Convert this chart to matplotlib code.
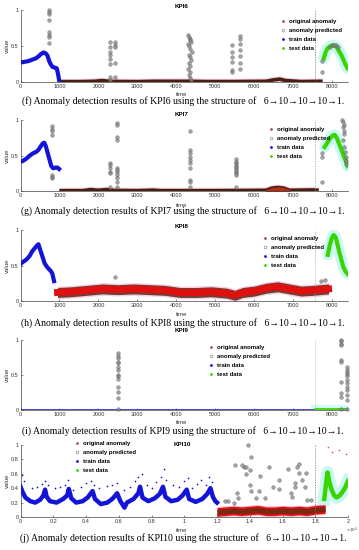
import matplotlib
matplotlib.use('Agg')
import matplotlib.pyplot as plt
from matplotlib.lines import Line2D

W, H = 359, 550

# ---------------- KPI6 ----------------
kpi6_train_x = [0, 100, 200, 300, 400, 470, 530, 590, 640, 690, 730, 770, 820, 880, 930, 960, 990]
kpi6_train_y = [0.27, 0.28, 0.29, 0.31, 0.33, 0.36, 0.39, 0.41, 0.40, 0.37, 0.30, 0.25, 0.21, 0.20, 0.19, 0.12, 0.03]
kpi6_band_x = [1000, 1500, 1900, 2100, 2300, 3000, 3400, 4300, 4800, 5400, 6300, 6500, 6650, 6800, 7200, 7750]
kpi6_band_c = [0.005, 0.005, 0.01, 0.02, 0.008, 0.005, 0.01, 0.01, 0.006, 0.006, 0.01, 0.03, 0.04, 0.02, 0.006, 0.01]
kpi6_test_x = [7780, 7830, 7880, 7950, 8030, 8100, 8180, 8250, 8330, 8390]
kpi6_test_y = [0.33, 0.42, 0.47, 0.50, 0.51, 0.49, 0.42, 0.35, 0.25, 0.19]
kpi6_anom_x = [740, 740, 740, 740, 740, 740, 740, 740,
               2300, 2300, 2300, 2300, 2300, 2300, 2300, 2300,
               2420, 2420, 2420, 2420, 2420,
               4300, 4320, 4340, 4360, 4380, 4300, 4330, 4360, 4390, 4310, 4350,
               4370, 4320, 4340, 4300, 4360, 4330, 4350, 4380,
               5420, 5420, 5420, 5420, 5420, 5420,
               5630, 5630, 5630, 5630, 5630, 5630, 5630,
               7730, 7730,
               7950, 8000, 8050, 8100, 8150]
kpi6_anom_y = [1.0, 0.97, 0.94, 0.86, 0.69, 0.65, 0.62, 0.54,
               0.55, 0.49, 0.42, 0.38, 0.32, 0.25, 0.07, 0.03,
               0.55, 0.52, 0.49, 0.27, 0.07,
               0.65, 0.63, 0.60, 0.58, 0.56, 0.53, 0.50, 0.46, 0.42, 0.38,
               0.35, 0.30, 0.26, 0.22, 0.18, 0.14, 0.10, 0.06, 0.03,
               0.51, 0.42, 0.35, 0.28, 0.17, 0.14,
               0.64, 0.60, 0.53, 0.44, 0.36, 0.26, 0.18,
               0.14, 0.29,
               0.49, 0.51, 0.52, 0.51, 0.49]

# ---------------- KPI7 ----------------
kpi7_train_x = [0, 80, 160, 240, 320, 400, 460, 520, 570, 610, 650, 700, 750, 790, 840, 900, 950, 990]
kpi7_train_y = [0.41, 0.43, 0.46, 0.50, 0.53, 0.55, 0.58, 0.63, 0.67, 0.68, 0.63, 0.53, 0.43, 0.35, 0.32, 0.33, 0.33, 0.31]
kpi7_band_x = [1000, 1600, 1800, 2000, 2200, 2400, 3000, 3400, 3600, 5000, 6300, 6450, 6600, 6750, 6900, 7500, 7650]
kpi7_band_c = [0.005, 0.005, 0.02, 0.01, 0.02, 0.008, 0.005, 0.012, 0.005, 0.005, 0.01, 0.04, 0.05, 0.04, 0.01, 0.015, 0.01]
kpi7_test_x = [7800, 7870, 7940, 8000, 8060, 8120, 8180, 8240, 8300, 8360, 8390]
kpi7_test_y = [0.62, 0.68, 0.74, 0.78, 0.79, 0.74, 0.65, 0.57, 0.48, 0.40, 0.35]
kpi7_anom_x = [800, 800, 800, 800, 800, 800, 800,
               2300, 2300, 2300, 2300, 2300, 2300,
               2470, 2470, 2470, 2470, 2470, 2470, 2470, 2470, 2470, 2470, 2470,
               4350, 4350, 4350, 4350, 4350, 4350, 4350, 4350, 4350, 4350,
               5530, 5530, 5530, 5530, 5530, 5530, 5530, 5530, 5530, 5530, 5530,
               7730, 7730, 7730,
               8250, 8280, 8300, 8260, 8290, 8310, 8270, 8300, 8320, 8340, 8350, 8360]
kpi7_anom_y = [0.91, 0.87, 0.84, 0.79, 0.23, 0.20, 0.18,
               0.39, 0.37, 0.32, 0.27, 0.25, 0.05,
               0.96, 0.93, 0.76, 0.72, 0.32, 0.30, 0.27, 0.23, 0.18, 0.13, 0.05,
               0.84, 0.58, 0.53, 0.48, 0.44, 0.39, 0.32, 0.15, 0.13, 0.05,
               0.45, 0.41, 0.39, 0.37, 0.34, 0.32, 0.30, 0.27, 0.25, 0.23, 0.06,
               0.13, 0.53, 0.48,
               1.0, 0.97, 0.93, 0.90, 0.85, 0.80, 0.72, 0.62, 0.55, 0.48, 0.42, 0.38]

# ---------------- KPI8 ----------------
kpi8_train_x = [0, 60, 120, 180, 240, 300, 360, 420, 460, 500, 560, 620, 680, 730, 780, 820, 860]
kpi8_train_y = [0.52, 0.55, 0.57, 0.60, 0.64, 0.70, 0.74, 0.78, 0.80, 0.73, 0.63, 0.53, 0.48, 0.45, 0.42, 0.38, 0.28]
kpi8_band_x = [950, 1300, 1700, 2100, 2500, 2900, 3300, 3700, 4100, 4500, 4900, 5300, 5500,
               5700, 6000, 6300, 6600, 6900, 7200, 7500, 7900]
kpi8_band_c = [0.12, 0.13, 0.15, 0.17, 0.16, 0.17, 0.16, 0.15, 0.12, 0.12, 0.13, 0.11, 0.08,
               0.12, 0.14, 0.18, 0.20, 0.17, 0.14, 0.15, 0.17]
kpi8_test_x = [7880, 7930, 7980, 8030, 8080, 8130, 8180, 8230, 8280, 8330, 8390]
kpi8_test_y = [0.65, 0.78, 0.88, 0.93, 0.90, 0.80, 0.68, 0.58, 0.48, 0.42, 0.38]
kpi8_anom_x = [2430, 7720, 7800]
kpi8_anom_y = [0.34, 0.28, 0.30]

# ---------------- KPI9 ----------------
kpi9_train_x = [0, 7560]
kpi9_train_y = [0.005, 0.005]
kpi9_test_x = [7560, 8400]
kpi9_test_y = [0.01, 0.01]
kpi9_anom_x = [2500] * 14 + [8210] * 10 + [8370] * 12
kpi9_anom_y = [0.81, 0.77, 0.74, 0.69, 0.67, 0.62, 0.57, 0.50, 0.48, 0.44, 0.33, 0.26, 0.17, 0.01,
               1.0, 0.98, 0.95, 0.93, 0.71, 0.69, 0.40, 0.24, 0.19, 0.02,
               0.62, 0.57, 0.55, 0.52, 0.48, 0.43, 0.38, 0.33, 0.29, 0.21, 0.14, 0.02]

# ---------------- KPI10 ----------------
kpi10_train_x = [0, 100, 300, 600, 900, 1200, 1400, 1500, 1600, 1800, 2200, 2600, 2850, 2950, 3100,
                 3400, 3800, 4100, 4300, 4400, 4550, 4900, 5300, 5600, 5800, 5900, 6100, 6350, 6500,
                 6900, 7200, 7300, 7450, 7800, 8200, 8500, 8700, 8850, 9200, 9600, 9900, 10150,
                 10300, 10700, 11100, 11400, 11600, 11750, 11900, 12000]
kpi10_train_y = [0.42, 0.36, 0.27, 0.22, 0.20, 0.24, 0.30, 0.38, 0.28, 0.22, 0.20, 0.25, 0.30, 0.39, 0.26,
                 0.20, 0.22, 0.27, 0.33, 0.36, 0.25, 0.18, 0.20, 0.25, 0.30, 0.33, 0.22, 0.13, 0.20,
                 0.25, 0.33, 0.42, 0.27, 0.22, 0.26, 0.32, 0.42, 0.28, 0.22, 0.24, 0.30, 0.38,
                 0.25, 0.21, 0.25, 0.32, 0.40, 0.28, 0.22, 0.20]
kpi10_out_x = [100, 200, 700, 1000, 1300, 1500, 1700, 2100, 2400, 2700, 2900, 3200, 3700, 4000,
               4300, 4500, 4800, 5300, 5600, 5900, 6300, 6700, 7000, 7200, 7400, 7700, 8000, 8300,
               8600, 8750, 8900, 9300, 9700, 10000, 10200, 10500, 10800, 11000, 11300, 11500, 11700]
kpi10_out_y = [0.58, 0.50, 0.40, 0.42, 0.46, 0.50, 0.44, 0.40, 0.42, 0.45, 0.52, 0.38, 0.42, 0.47,
               0.50, 0.44, 0.40, 0.43, 0.45, 0.47, 0.37, 0.41, 0.50, 0.56, 0.60, 0.45, 0.40, 0.48,
               0.55, 0.66, 0.52, 0.45, 0.42, 0.50, 0.54, 0.40, 0.46, 0.52, 0.44, 0.55, 0.48]
kpi10_band_x = [12000, 12500, 13000, 13500, 14000, 14500, 15000, 15500, 16000, 16500, 17000, 17500, 18000, 18600]
kpi10_band_c = [0.07, 0.08, 0.09, 0.08, 0.09, 0.10, 0.08, 0.08, 0.09, 0.08, 0.09, 0.08, 0.10, 0.11]
kpi10_test_x = [18550, 18650, 18750, 18850, 19000, 19150, 19300, 19500, 19700, 19850, 20000]
kpi10_test_y = [0.25, 0.45, 0.62, 0.50, 0.38, 0.30, 0.27, 0.30, 0.36, 0.42, 0.50]
kpi10_anom_x = [12500, 12700, 13010, 13210, 13310, 13620, 13780, 13780, 13900, 14000, 14020, 14050,
                14070, 14400, 14570, 14640, 14910, 15170, 15390, 15770, 15800, 16360, 16490, 16600,
                16760, 16760, 16910, 17010, 17010, 17210, 17370, 17450, 17520, 17720, 13100, 13540]
kpi10_anom_y = [0.22, 0.22, 0.19, 0.33, 0.26, 0.70, 0.70, 0.60, 1.0, 0.65, 0.44, 0.36,
                0.84, 0.26, 0.36, 0.57, 0.26, 0.70, 0.41, 0.52, 0.39, 0.66, 0.34, 0.28,
                0.47, 0.41, 0.70, 0.74, 0.61, 0.52, 0.41, 0.61, 0.24, 0.24, 0.72, 0.72]
kpi10_orig_x = [18780, 19000, 19480, 19880]
kpi10_orig_y = [0.97, 0.90, 0.93, 0.87]

captions = [
    "(f) Anomaly detection results of KPI6 using the structure of   6\u219210\u219210\u219210\u21921.",
    "(g) Anomaly detection results of KPI7 using the structure of   6\u219210\u219210\u219210\u21921.",
    "(h) Anomaly detection results of KPI8 using the structure of   6\u219210\u219210\u219210\u21921.",
    "(i) Anomaly detection results of KPI9 using the structure of   6\u219210\u219210\u219210\u21921.",
    "(j) Anomaly detection results of KPI10 using the structure of   6\u219210\u219210\u219210\u21921.",
]

BLUE = '#1414d8'
GREEN = '#3ad400'
RED = '#e01010'
BROWN = '#4a1e10'
GREY = '#858585'
SANS = ['Liberation Sans', 'DejaVu Sans']
SERIF = ['Liberation Serif', 'DejaVu Serif']

fig = plt.figure(figsize=(W / 100, H / 100), dpi=100)


def add_axes(top, bot, left=20.5, right=348):
    return fig.add_axes([left / W, 1 - bot / H, (right - left) / W, (bot - top) / H])


def style_axes(ax, xmax, xticks, xlabels, yticks, ylabels):
    ax.set_xlim(0, xmax)
    ax.set_ylim(0, 1)
    for s in ['top', 'right']:
        ax.spines[s].set_visible(False)
    for s in ['left', 'bottom']:
        ax.spines[s].set_linewidth(0.5)
        ax.spines[s].set_color('#444444')
    ax.set_xticks(xticks)
    ax.set_xticklabels(xlabels)
    ax.set_yticks(yticks)
    ax.set_yticklabels(ylabels)
    ax.tick_params(direction='in', length=1.5, width=0.4, labelsize=4, pad=1.5, colors='#333333')
    for t in ax.get_xticklabels() + ax.get_yticklabels():
        t.set_family(SANS)
    ax.patch.set_alpha(0)


def fig_text(x, y, s, **kw):
    kw.setdefault('ha', 'center')
    fig.text(x / W, 1 - y / H, s, va='center', **kw)


def legend(ax, x, y):
    hs = [Line2D([], [], ls='none', marker='.', ms=2, color='#b05050'),
          Line2D([], [], ls='none', marker='o', ms=2, mfc='none', mec='#777777', mew=0.4),
          Line2D([], [], ls='none', marker='.', ms=2, color=BLUE),
          Line2D([], [], ls='none', marker='.', ms=2, color=GREEN)]
    labels = ['original anomaly', 'anomaly predicted', 'train data', 'test data']
    ax.legend(hs, labels, loc='upper left', bbox_to_anchor=(x / W, 1 - y / H),
              bbox_transform=fig.transFigure, frameon=False, handlelength=0.8,
              handletextpad=0.6, labelspacing=0.62, borderpad=0, borderaxespad=0,
              prop={'family': SANS, 'size': 4.3, 'weight': 'bold'})


def draw_line_band(ax, bx, bc, col, lw):
    ax.plot(bx, bc, color='#f6d0e4', lw=lw + 1.5, solid_capstyle='butt', zorder=1)
    ax.plot(bx, bc, color=col, lw=lw, solid_capstyle='butt', zorder=2)


def draw_train_test(ax, trx, try_, tex, tey, lw=3.0):
    ax.plot(tex, tey, color='#c8f8f4', lw=lw + 5, zorder=1, solid_capstyle='round')
    ax.plot(trx, try_, color=BLUE, lw=lw, zorder=3)
    ax.plot(tex, tey, color=GREEN, lw=lw, zorder=3)


def draw_anom(ax, x, y):
    ax.scatter(x, y, s=7, facecolor=GREY, edgecolor='#505050', linewidths=0.3,
               alpha=0.75, zorder=4, clip_on=False)


x8 = list(range(0, 8001, 1000))
x8l = [str(v) for v in x8]

# panel tops/bottoms in px (value 1 / value 0)
tops = [10, 120, 230, 340, 445]
bots = [82, 191, 301, 410, 517]
titles = ['KPI6', 'KPI7', 'KPI8', 'KPI9', 'KPI10']
title_y = [7, 114, 227, 331, 445]
time_y = [95, 205, 315, 422, 530]
cap_y = [101, 211, 323, 431, 538]
leg_xy = [(281, 19), (269, 127), (263, 236), (209, 345), (75, 441)]

axes = [add_axes(tops[i], bots[i]) for i in range(5)]

# KPI6
ax = axes[0]
draw_line_band(ax, kpi6_band_x, kpi6_band_c, BROWN, 2.6)
draw_train_test(ax, kpi6_train_x, kpi6_train_y, kpi6_test_x, kpi6_test_y)
draw_anom(ax, kpi6_anom_x, kpi6_anom_y)
ax.axvline(7560, color='#777777', ls='--', lw=0.5, dashes=(2, 1.5))
style_axes(ax, 8400, x8, x8l, [0, 0.5, 1], ['0', '0.5', '1'])

# KPI7
ax = axes[1]
draw_line_band(ax, kpi7_band_x, kpi7_band_c, BROWN, 2.6)
ax.fill_between(kpi7_band_x[10:15], 0, kpi7_band_c[10:15], color='#b03018', zorder=2)
draw_train_test(ax, kpi7_train_x, kpi7_train_y, kpi7_test_x, kpi7_test_y)
draw_anom(ax, kpi7_anom_x, kpi7_anom_y)
ax.axvline(7560, color='#999999', ls='--', lw=0.5, dashes=(2, 1.5))
style_axes(ax, 8400, x8, x8l, [0, 0.5, 1], ['0', '0.5', '1'])

# KPI8
ax = axes[2]
lo = [c - 0.09 for c in kpi8_band_c]
hi = [c + 0.09 for c in kpi8_band_c]
ax.fill_between(kpi8_band_x, lo, hi, color='#f8cce2', zorder=1, lw=0)
lo = [c - 0.07 for c in kpi8_band_c]
hi = [c + 0.07 for c in kpi8_band_c]
ax.fill_between(kpi8_band_x, lo, hi, color='#6a4233', zorder=2, lw=0)
ax.plot(kpi8_band_x, kpi8_band_c, color=RED, lw=5, zorder=3)
draw_train_test(ax, kpi8_train_x, kpi8_train_y, kpi8_test_x, kpi8_test_y)
draw_anom(ax, kpi8_anom_x, kpi8_anom_y)
ax.axvline(7560, color='#88bb88', ls='--', lw=0.5, dashes=(1.5, 1.5))
style_axes(ax, 8400, x8, x8l, [0, 0.5, 1], ['0', '0.5', '1'])

# KPI9
ax = axes[3]
ax.plot(kpi9_test_x, kpi9_test_y, color='#d0fbf6', lw=6, zorder=1)
ax.plot(kpi9_train_x, kpi9_train_y, color='#3c3cd0', lw=1.3, zorder=2)
ax.plot(kpi9_test_x, kpi9_test_y, color=GREEN, lw=1.3, zorder=2)
draw_anom(ax, kpi9_anom_x, kpi9_anom_y)
ax.axvline(7560, color='#99cc88', ls='--', lw=0.5, dashes=(1.5, 1.5))
style_axes(ax, 8400, x8, x8l, [0, 0.5, 1], ['0', '0.5', '1'])

# KPI10
ax = axes[4]
lo = [c - 0.075 for c in kpi10_band_c]
hi = [c + 0.075 for c in kpi10_band_c]
ax.fill_between(kpi10_band_x, lo, hi, color='#f6b8d8', zorder=1, lw=0)
lo = [c - 0.06 for c in kpi10_band_c]
hi = [c + 0.06 for c in kpi10_band_c]
ax.fill_between(kpi10_band_x, lo, hi, color=RED, zorder=2, lw=0)
lo = [c - 0.035 for c in kpi10_band_c]
hi = [c + 0.035 for c in kpi10_band_c]
ax.fill_between(kpi10_band_x, lo, hi, color='#7a2810', zorder=2, lw=0)
ax.scatter(kpi10_out_x, kpi10_out_y, s=1.5, color=BLUE, lw=0, zorder=3)
ax.plot(kpi10_test_x, kpi10_test_y, color='#c8f8f4', lw=9, zorder=1)
ax.plot(kpi10_train_x, kpi10_train_y, color=BLUE, lw=3.2, zorder=3)
ax.plot(kpi10_test_x, kpi10_test_y, color=GREEN, lw=3.2, zorder=3)
ax.scatter(kpi10_orig_x, kpi10_orig_y, s=1.5, color='#d06060', lw=0, zorder=3)
draw_anom(ax, kpi10_anom_x, kpi10_anom_y)
ax.axvline(18000, color='#777777', ls='--', lw=0.5, dashes=(2, 1.5))
x10 = list(range(0, 20001, 2000))
x10l = ['0', '0.2', '0.4', '0.6', '0.8', '1', '1.2', '1.4', '1.6', '1.8', '2']
style_axes(ax, 20000, x10, x10l, [0, 0.2, 0.4, 0.6, 0.8, 1],
           ['0', '0.2', '0.4', '0.6', '0.8', '1'])
fig_text(358, 530, r'$\times10^4$', fontsize=2.8, color='#333333', ha='right')

for i in range(5):
    legend(axes[i], *leg_xy[i])
    fig_text(182, title_y[i], titles[i], fontsize=4.5, fontweight='bold', family=SANS)
    fig_text(182, time_y[i], 'time', fontsize=4.3, family=SANS, color='#333333')
    fig_text(7, (tops[i] + bots[i]) / 2, 'value', fontsize=4.3, family=SANS,
             color='#333333', rotation=90)
    fig_text(183, cap_y[i], captions[i], fontsize=7.0, family=SERIF)

fig.savefig('out.png', dpi=100)
